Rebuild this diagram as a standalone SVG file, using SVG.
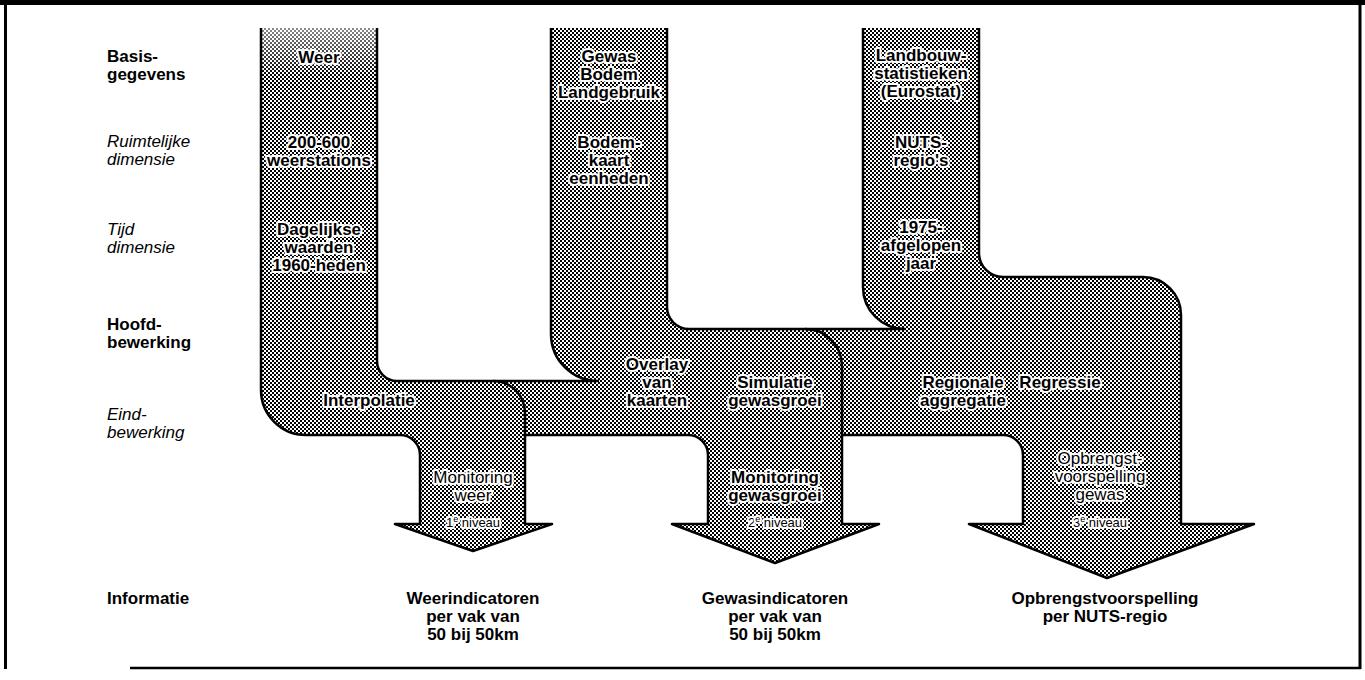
<svg xmlns="http://www.w3.org/2000/svg" width="1365" height="680" viewBox="0 0 1365 680">
<style>
  text { font-family: "Liberation Sans", Arial, sans-serif; font-size: 17px; fill: #000; }
  .b { font-weight: 700; }
  .it { font-style: italic; font-weight: 400; }
  .c { text-anchor: middle; }
  .h { stroke: #fff; stroke-width: 4; stroke-linejoin: round; paint-order: stroke; }
  .sm { font-size: 13px; font-weight: 400; }
  .sup { font-size: 9px; }
  .edge { fill: none; stroke: #000; stroke-width: 2.5; stroke-linejoin: round; }
</style>
<defs>
  <pattern id="dots" width="4" height="4" patternUnits="userSpaceOnUse">
    <rect width="4" height="4" fill="#fff"/>
    <rect width="2" height="2" fill="#000"/>
    <rect x="2" y="2" width="2" height="2" fill="#000"/>
  </pattern>
  <linearGradient id="fade" x1="0" y1="0" x2="0" y2="1">
    <stop offset="0" stop-color="#fff" stop-opacity="0.55"/>
    <stop offset="1" stop-color="#fff" stop-opacity="0"/>
  </linearGradient>
</defs>
<rect width="1365" height="680" fill="#fff"/>
<g id="frame">
  <rect x="0" y="0" width="1365" height="5" fill="#000"/>
  <line x1="5.5" y1="0" x2="5.5" y2="669" stroke="#000" stroke-width="3"/>
  <line x1="1360" y1="0" x2="1360" y2="669" stroke="#000" stroke-width="3"/>
  <line x1="130" y1="668" x2="1361" y2="668" stroke="#000" stroke-width="2.5"/>
</g>
<g id="connectors">
  <path id="flow-fill" fill="url(#dots)" d="M261,28 H377 V361 A20,20 0 0 0 397,381 H598 A47,47 0 0 1 551,334 V28 H667 V307 A22,22 0 0 0 689,329 H905 A42,42 0 0 1 863,287 V28 H979 V253 A24,24 0 0 0 1003,277 H1143 A38,38 0 0 1 1181,315 V524 L1254,524 L1107,578 L969,524 L1023,524 V455 A20,20 0 0 0 1003,435 H842 V524 L879,524 L775,563 L672,524 L708,524 V455 A20,20 0 0 0 688,435 H525 V524 L552,524 L473,551 L395,524 L420,524 V455 A20,20 0 0 0 400,435 H306 A45,45 0 0 1 261,390 Z"/>
  <rect x="262" y="28" width="114" height="48" fill="url(#fade)"/>
  <path class="edge" d="M377,28 V361 A20,20 0 0 0 397,381 H598 A47,47 0 0 1 551,334 V28 M667,28 V307 A22,22 0 0 0 689,329 H905 A42,42 0 0 1 863,287 V28 M979,28 V253 A24,24 0 0 0 1003,277 H1143 A38,38 0 0 1 1181,315 V524 L1254,524 L1107,578 L969,524 L1023,524 V455 A20,20 0 0 0 1003,435 H842 V524 L879,524 L775,563 L672,524 L708,524 V455 A20,20 0 0 0 688,435 H525 V524 L552,524 L473,551 L395,524 L420,524 V455 A20,20 0 0 0 400,435 H306 A45,45 0 0 1 261,390 V28"/>
  <path class="edge" d="M493,381 A32,32 0 0 1 525,413 V436"/>
  <path class="edge" d="M805,329 A37,37 0 0 1 842,366 V436"/>
</g>
<g id="row-labels">
  <text class="b" x="107" y="62">Basis-</text>
  <text class="b" x="107" y="80">gegevens</text>
  <text class="it" x="107" y="147">Ruimtelijke</text>
  <text class="it" x="107" y="165">dimensie</text>
  <text class="it" x="107" y="235">Tijd</text>
  <text class="it" x="107" y="253">dimensie</text>
  <text class="b" x="107" y="330">Hoofd-</text>
  <text class="b" x="107" y="348">bewerking</text>
  <text class="it" x="107" y="420">Eind-</text>
  <text class="it" x="107" y="438">bewerking</text>
  <text class="b" x="107" y="604">Informatie</text>
</g>
<g id="node-weer">
  <text class="b c h" x="319" y="63">Weer</text>
  <text class="b c h" x="319" y="148">200-600</text>
  <text class="b c h" x="319" y="166">weerstations</text>
  <text class="b c h" x="319" y="235">Dagelijkse</text>
  <text class="b c h" x="319" y="253">waarden</text>
  <text class="b c h" x="319" y="271">1960-heden</text>
</g>
<g id="node-gewas">
  <text class="b c h" x="609" y="62">Gewas</text>
  <text class="b c h" x="609" y="80">Bodem</text>
  <text class="b c h" x="609" y="98">Landgebruik</text>
  <text class="b c h" x="609" y="148">Bodem-</text>
  <text class="b c h" x="609" y="166">kaart</text>
  <text class="b c h" x="609" y="184">eenheden</text>
</g>
<g id="node-landbouw">
  <text class="b c h" x="921" y="61">Landbouw-</text>
  <text class="b c h" x="921" y="79">statistieken</text>
  <text class="b c h" x="921" y="97">(Eurostat)</text>
  <text class="b c h" x="921" y="148">NUTS-</text>
  <text class="b c h" x="921" y="166">regio's</text>
  <text class="b c h" x="921" y="233">1975-</text>
  <text class="b c h" x="921" y="251">afgelopen</text>
  <text class="b c h" x="921" y="269">jaar</text>
</g>
<g id="node-interpolatie">
  <text class="b c h" x="369" y="406">Interpolatie</text>
</g>
<g id="node-overlay">
  <text class="b c h" x="657" y="370">Overlay</text>
  <text class="b c h" x="657" y="388">van</text>
  <text class="b c h" x="657" y="406">kaarten</text>
</g>
<g id="node-simulatie">
  <text class="b c h" x="775" y="388">Simulatie</text>
  <text class="b c h" x="775" y="406">gewasgroei</text>
</g>
<g id="node-regionale">
  <text class="b c h" x="963" y="388">Regionale</text>
  <text class="b c h" x="963" y="406">aggregatie</text>
</g>
<g id="node-regressie">
  <text class="b c h" x="1060" y="388">Regressie</text>
</g>
<g id="node-monitoring-weer">
  <text class="c h" x="473" y="483">Monitoring</text>
  <text class="c h" x="473" y="501">weer</text>
  <text class="c h sm" x="473" y="527">1<tspan class="sup" dy="-5">e</tspan><tspan dy="5"> niveau</tspan></text>
</g>
<g id="node-monitoring-gewas">
  <text class="b c h" x="775" y="483">Monitoring</text>
  <text class="b c h" x="775" y="501">gewasgroei</text>
  <text class="c h sm" x="775" y="527">2<tspan class="sup" dy="-5">e</tspan><tspan dy="5"> niveau</tspan></text>
</g>
<g id="node-opbrengst">
  <text class="c h" x="1100" y="464">Opbrengst-</text>
  <text class="c h" x="1100" y="482">voorspelling</text>
  <text class="c h" x="1100" y="500">gewas</text>
  <text class="c h sm" x="1100" y="527">3<tspan class="sup" dy="-5">e</tspan><tspan dy="5"> niveau</tspan></text>
</g>
<g id="info-weer">
  <text class="b c" x="473" y="604">Weerindicatoren</text>
  <text class="b c" x="473" y="622">per vak van</text>
  <text class="b c" x="473" y="640">50 bij 50km</text>
</g>
<g id="info-gewas">
  <text class="b c" x="775" y="604">Gewasindicatoren</text>
  <text class="b c" x="775" y="622">per vak van</text>
  <text class="b c" x="775" y="640">50 bij 50km</text>
</g>
<g id="info-opbrengst">
  <text class="b c" x="1105" y="604">Opbrengstvoorspelling</text>
  <text class="b c" x="1105" y="622">per NUTS-regio</text>
</g>
</svg>
